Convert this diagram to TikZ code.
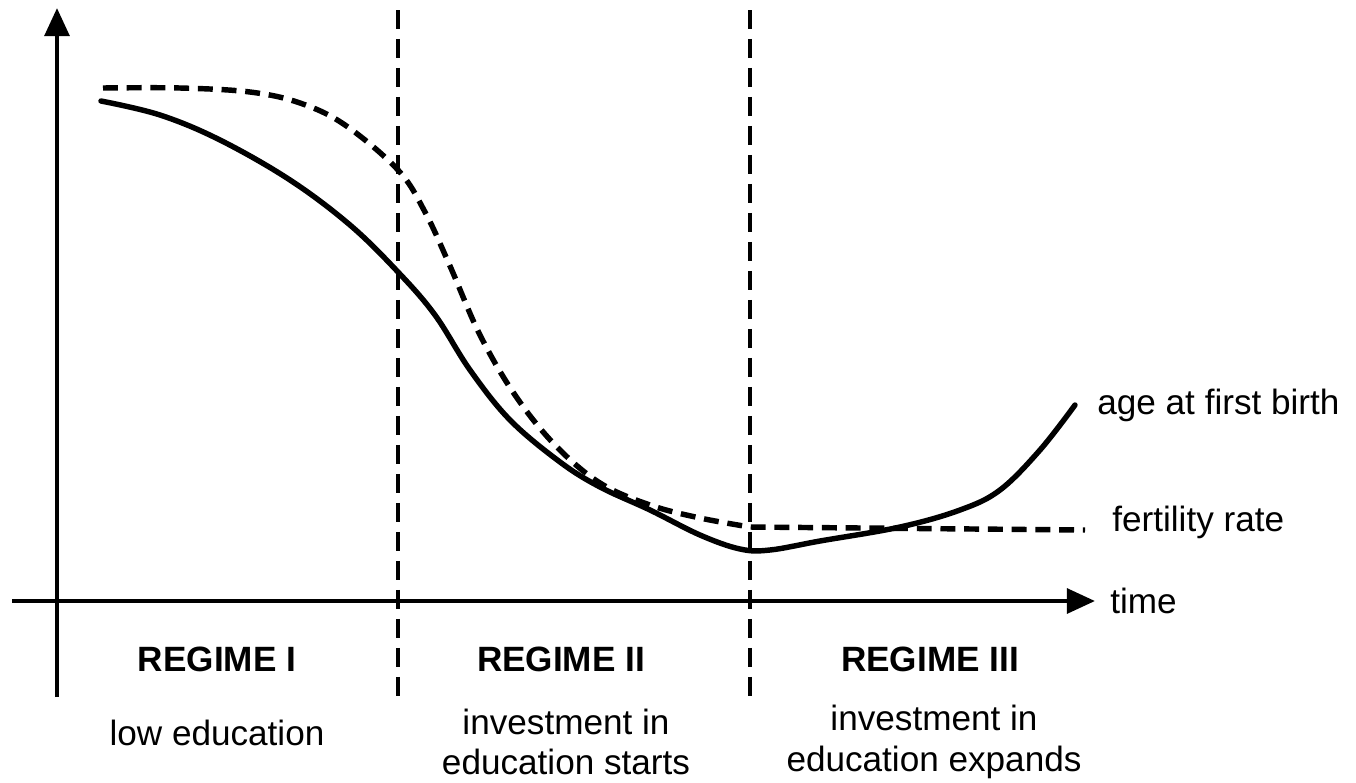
\documentclass[tikz,border=0pt]{standalone}
\usepackage{fontspec}
\setmainfont{Liberation Sans}
\usetikzlibrary{arrows.meta}
\def\axisTip{Triangle[length=16pt,width=14pt]}
\colorlet{curve ink}{black}
\tikzset{
  axis/.style={draw=curve ink, line width=2.5pt, -{\axisTip}},
  border/.style={draw=curve ink, line width=2pt, dash pattern=on 11pt off 5.5pt},
  agecurve/.style={draw=curve ink, line width=3.1pt, line cap=round},
  fertcurve/.style={draw=curve ink, line width=3.1pt, dash pattern=on 8.5pt off 5pt}
  }
\tikzstyle{txt}=[inner sep=0pt, align=center, font=\fontsize{20}{23}\selectfont]
\tikzstyle{regimetxt}=[txt, font=\fontsize{20}{23}\selectfont\bfseries]

\begin{document}
\begin{tikzpicture}[x=0.02cm, y=-0.02cm]
  \useasboundingbox (0,0) rectangle (1356,782);

  % axes
  \coordinate (ybot) at (57,697);
  \coordinate (ytop) at (57,8);
  \coordinate (xleft) at (12,601);
  \coordinate (xright) at (1095,601);
  \draw[axis] (ybot) -- (ytop);
  \draw[axis] (xleft) -- (xright);
  \node[txt, anchor=west] (time) at (1110,601) {time};

  % regime borders
  \foreach \x/\name in {398/one, 750/two} {
    \coordinate (\name top) at (\x,10);
    \coordinate (\name bot) at (\x,697);
    \draw[border] (\name top) -- (\name bot);
  }

  % fertility rate
  \coordinate (fend) at (1085,530);
  \draw[fertcurve] plot[smooth, tension=0.6] coordinates {(103,88) (180,88) (250,92)
    (300,103) (345,125) (398,170) (425,212) (450,266) (480,335) (515,395) (555,445)
    (600,483) (650,505) (700,518) (750,527)} -- (fend);
  \node[txt, anchor=west] (fert) at (1112,522) {fertility rate};

  % age at first birth
  \draw[agecurve] plot[smooth, tension=0.6] coordinates {(101,101) (160,115) (220,140)
    (290,180) (350,225) (398,272) (435,315) (470,370) (510,420) (560,462) (600,487)
    (650,510) (700,535) (740,549) (770,550) (820,541) (900,527) (960,510) (1000,490)
    (1040,450) (1075,405)};
  \node[txt, anchor=west] (age) at (1097,405) {age at first birth};

  % regimes
  \foreach \pos/\name/\txt in {{(217,659)/regI/REGIME I}, {(561,659)/regII/REGIME II},
      {(930,659)/regIII/REGIME III}} {
    \node[regimetxt] (\name) at \pos {\txt};
  }
  \node[txt] (low) at (217,733) {low education};
  \node[txt] (starts) at (566,742) {investment in\\education starts};
  \node[txt] (expands) at (934,742) {investment in\\education expands};
\end{tikzpicture}
\end{document}
